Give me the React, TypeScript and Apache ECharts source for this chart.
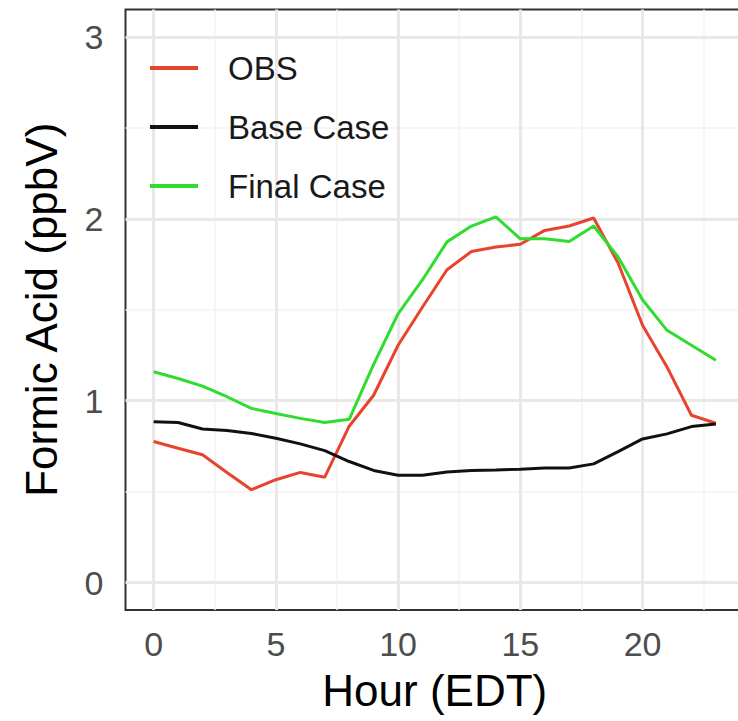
import React, { useEffect, useRef } from "react";
import * as echarts from "echarts";

const hours = [0, 1, 2, 3, 4, 5, 6, 7, 8, 9, 10, 11, 12, 13, 14, 15, 16, 17, 18, 19, 20, 21, 22, 23];
const obs = [0.776, 0.739, 0.703, 0.606, 0.511, 0.566, 0.606, 0.58, 0.86, 1.03, 1.305, 1.515, 1.72, 1.82, 1.845, 1.86, 1.936, 1.96, 2.004, 1.757, 1.415, 1.186, 0.92, 0.876];
const baseCase = [0.885, 0.88, 0.845, 0.836, 0.82, 0.794, 0.763, 0.726, 0.666, 0.617, 0.59, 0.59, 0.608, 0.617, 0.62, 0.624, 0.63, 0.63, 0.653, 0.72, 0.79, 0.818, 0.858, 0.872];
const finalCase = [1.159, 1.122, 1.08, 1.022, 0.958, 0.93, 0.903, 0.88, 0.898, 1.2, 1.478, 1.665, 1.873, 1.96, 2.01, 1.89, 1.89, 1.875, 1.96, 1.79, 1.555, 1.387, 1.305, 1.222];

const xTicks = [0, 5, 10, 15, 20];
const xMinor = [2.5, 7.5, 12.5, 17.5, 22.5];
const yTicks = [0, 1, 2, 3];
const yMinor = [0.5, 1.5, 2.5];

const FONT = "Liberation Sans, Arial, Helvetica, sans-serif";

export default function App() {
  const ref = useRef<HTMLDivElement>(null);
  useEffect(() => {
    if (!ref.current) return;
    const chart = echarts.init(ref.current, null, { renderer: "svg" });
    const pair = (arr: number[]) => hours.map((h, i) => [h, arr[i]]);
    const gridLines: any[] = [
      ...xMinor.map((v) => ({ xAxis: v, lineStyle: { color: "#f3f3f3", width: 1.5, type: "solid" } })),
      ...yMinor.map((v) => ({ yAxis: v, lineStyle: { color: "#f3f3f3", width: 1.5, type: "solid" } })),
      ...xTicks.map((v) => ({ xAxis: v, lineStyle: { color: "#e8e8e8", width: 3, type: "solid" } })),
      ...yTicks.map((v) => ({ yAxis: v, lineStyle: { color: "#e8e8e8", width: 3, type: "solid" } })),
    ];
    chart.setOption({
      animation: false,
      backgroundColor: "#ffffff",
      textStyle: { fontFamily: FONT },
      grid: {
        left: 125.5,
        right: 2,
        top: 9.5,
        bottom: 111,
        show: true,
        borderColor: "#333333",
        borderWidth: 2,
        backgroundColor: "transparent",
      },
      legend: {
        left: 150,
        top: 48,
        padding: 0,
        orient: "vertical",
        itemWidth: 48,
        itemHeight: 4,
        itemGap: 19,
        icon: "rect",
        data: ["OBS", "Base Case", "Final Case"],
        textStyle: {
          fontSize: 33,
          lineHeight: 40,
          color: "#1a1a1a",
          fontFamily: FONT,
          padding: [0, 0, 0, 25],
        },
      },
      xAxis: {
        type: "value",
        min: -1.15,
        max: 24.15,
        name: "Hour (EDT)",
        nameLocation: "middle",
        nameGap: 58,
        nameTextStyle: { fontSize: 44, color: "#000000", fontFamily: FONT },
        axisLine: { show: false },
        axisTick: { show: true, length: 11, customValues: xTicks, lineStyle: { color: "#333333", width: 2 } },
        axisLabel: { customValues: xTicks, fontSize: 34, color: "#4d4d4d", margin: 17, fontFamily: FONT },
        splitLine: { show: false },
      },
      yAxis: {
        type: "value",
        min: -0.15,
        max: 3.15,
        name: "Formic Acid (ppbV)",
        nameLocation: "middle",
        nameGap: 62,
        nameTextStyle: { fontSize: 44, color: "#000000", fontFamily: FONT },
        axisLine: { show: false },
        axisTick: { show: true, length: 11, customValues: yTicks, lineStyle: { color: "#333333", width: 2 } },
        axisLabel: { customValues: yTicks, fontSize: 34, color: "#4d4d4d", margin: 22, fontFamily: FONT },
        splitLine: { show: false },
      },
      series: [
        {
          name: "grid",
          type: "line",
          data: [],
          silent: true,
          z: 1,
          markLine: {
            silent: true,
            symbol: "none",
            label: { show: false },
            z: 1,
            data: gridLines,
          },
        },
        {
          name: "OBS",
          type: "line",
          data: pair(obs),
          showSymbol: false,
          color: "#e8432c",
          lineStyle: { color: "#e8432c", width: 3 },
          z: 3,
        },
        {
          name: "Base Case",
          type: "line",
          data: pair(baseCase),
          showSymbol: false,
          color: "#111111",
          lineStyle: { color: "#111111", width: 3 },
          z: 3,
        },
        {
          name: "Final Case",
          type: "line",
          data: pair(finalCase),
          showSymbol: false,
          color: "#2fdc2f",
          lineStyle: { color: "#2fdc2f", width: 3 },
          z: 3,
        },
      ],
    });
    return () => chart.dispose();
  }, []);
  return (
    <div style={{ position: "fixed", left: 0, top: 0, width: 738, height: 721, overflow: "hidden", background: "#fff" }}>
      <div ref={ref} style={{ width: 746, height: 721 }} />
    </div>
  );
}
